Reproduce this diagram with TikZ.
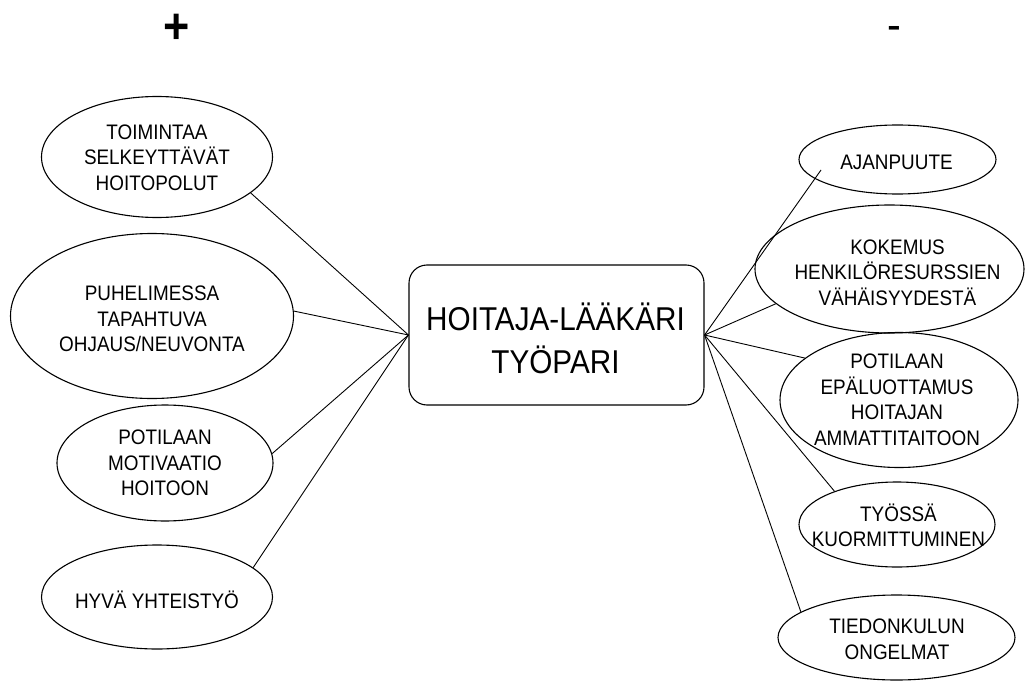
\documentclass[tikz,border=0pt]{standalone}
\usepackage{fontspec}
\setmainfont{Liberation Sans}[FakeStretch=0.9]
\usetikzlibrary{shapes.geometric,calc}
\begin{document}
\begin{tikzpicture}[x=1pt,y=-1pt,
  oval/.style={draw, ellipse, line width=1.1pt, inner sep=0pt},
  conn/.style={line width=0.9pt},
  lbl/.style={align=center, inner sep=0pt, font=\fontsize{21}{25.5}\selectfont},
  hub/.style={draw, rounded corners=18pt, line width=1.1pt, minimum width=295pt, minimum height=140pt, inner sep=0pt}]
\useasboundingbox (0,0) rectangle (1025,682);
\fill[white] (0,0) rectangle (1025,682);

% signs
\node[anchor=base, inner sep=0pt, font=\fontsize{50}{50}\selectfont\bfseries] (plus) at (177,43.5) {+};
\node[anchor=base, inner sep=0pt, font=\fontsize{46}{46}\selectfont] (minus) at (894.5,40.5) {-};

% hub
\node[hub] (c) at (556.5,335) {};
\node[align=center, inner sep=0pt, font=\fontsize{33}{43}\selectfont] (ct) at (555.5,338) {HOITAJA-LÄÄKÄRI\\TYÖPARI};

% left ovals
\node[oval, minimum width=231pt, minimum height=121pt] (l1) at (157,157) {};
\node[lbl] (l1t) at (157,157.5) {TOIMINTAA\\SELKEYTTÄVÄT\\HOITOPOLUT};
\node[oval, minimum width=283pt, minimum height=165pt] (l2) at (152,316) {};
\node[lbl] (l2t) at (152,319) {PUHELIMESSA\\TAPAHTUVA\\OHJAUS/NEUVONTA};
\node[oval, minimum width=216pt, minimum height=116pt] (l3) at (165,463) {};
\node[lbl] (l3t) at (165,463) {POTILAAN\\MOTIVAATIO\\HOITOON};
\node[oval, minimum width=231pt, minimum height=104pt] (l4) at (157,597) {};
\node[lbl] (l4t) at (157,599.5) {HYVÄ YHTEISTYÖ};

% right ovals
\node[oval, minimum width=197pt, minimum height=69pt] (r1) at (897.5,159.5) {};
\node[lbl] (r1t) at (896.5,162) {AJANPUUTE};
\node[oval, minimum width=269pt, minimum height=128pt] (r2) at (889.5,269) {};
\node[lbl] (r2t) at (897.5,272.5) {KOKEMUS\\HENKILÖRESURSSIEN\\VÄHÄISYYDESTÄ};
\node[oval, minimum width=238pt, minimum height=135pt] (r3) at (899,400) {};
\node[lbl] (r3t) at (897,400) {POTILAAN\\EPÄLUOTTAMUS\\HOITAJAN\\AMMATTITAITOON};
\node[oval, minimum width=196pt, minimum height=85pt] (r4) at (897,524.5) {};
\node[lbl] (r4t) at (898.5,525.5) {TYÖSSÄ\\KUORMITTUMINEN};
\node[oval, minimum width=237pt, minimum height=85pt] (r5) at (896.5,637.5) {};
\node[lbl] (r5t) at (897,639.5) {TIEDONKULUN\\ONGELMAT};

% connectors
\draw[conn] (c.west) -- (l1.-21.6);
\draw[conn] (c.west) -- (l2.2);
\draw[conn] (c.west) -- (l3.5.8);
\draw[conn] (c.west) -- (l4.17.4);
\draw[conn] (c.east) -- ($(r1.center)+(-76.5,10.5)$);
\draw[conn] (c.east) -- (r2.197);
\draw[conn] (c.east) -- (r3.156.5);
\draw[conn] (c.east) -- (r4.152.7);
\draw[conn] (c.east) -- (r5.165.9);
\end{tikzpicture}
\end{document}
